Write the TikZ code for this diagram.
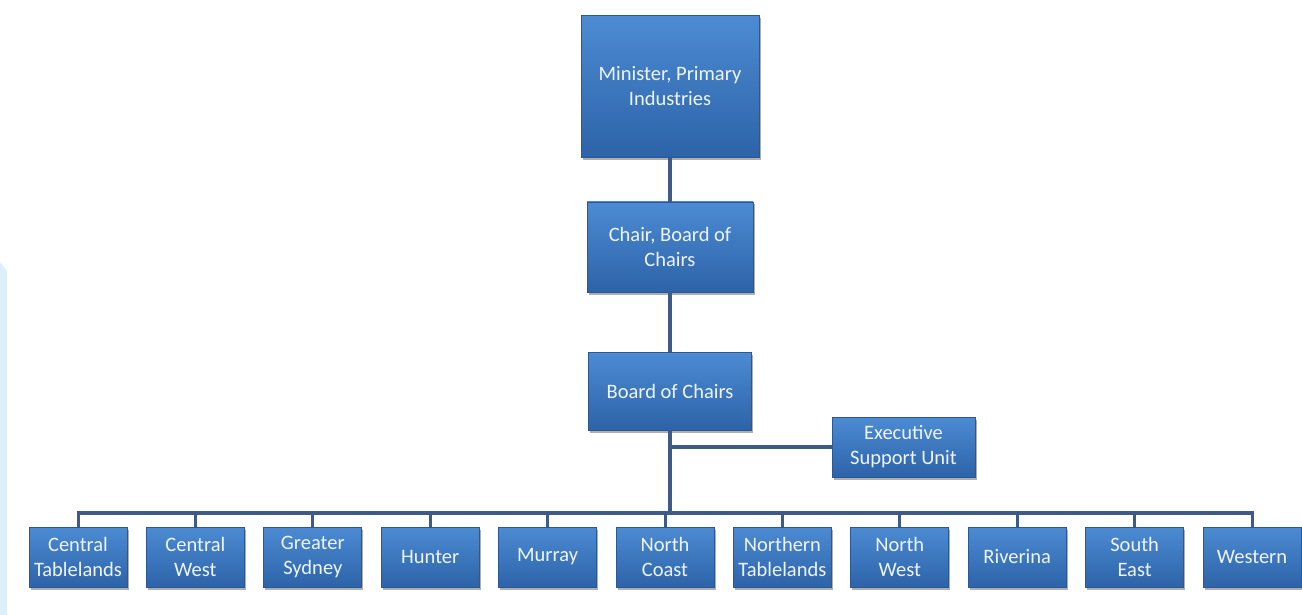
\documentclass[tikz,border=0pt]{standalone}
\usepackage{fontspec}
\setmainfont{Carlito}
\usetikzlibrary{shadows}
\definecolor{boxtop}{HTML}{4C8BD3}
\definecolor{boxbot}{HTML}{2D63A8}
\definecolor{boxedge}{HTML}{2A5894}
\definecolor{linec}{HTML}{3D5A88}
\definecolor{txt}{HTML}{EEF4FC}
\definecolor{panel}{HTML}{DDEFFA}
\tikzset{
  orgbox/.style={rectangle, draw=boxedge, line width=0.8pt, top color=boxtop, bottom color=boxbot,
    text=txt, align=center, inner sep=0pt, font=\fontsize{20.5}{25}\selectfont,
    drop shadow={shadow xshift=1.5pt, shadow yshift=-2.5pt, opacity=0.45, fill=black!70}},
  conn/.style={draw=linec, line width=3.8pt},
  stub/.style={draw=linec, line width=3pt}
}
\begin{document}
\begin{tikzpicture}[x=1pt,y=-1pt]
\fill[white] (0,0) rectangle (1302,615);
\useasboundingbox (0,0) rectangle (1302,615);
\fill[panel] (0,262) -- (7,271) -- (7,615) -- (0,615) -- cycle;

\node[orgbox, minimum width=178pt, minimum height=142pt] (min) at (670,86.5) {Minister, Primary\\Industries};
\node[orgbox, minimum width=166pt, minimum height=90pt] (chair) at (670,247) {Chair, Board of\\Chairs};
\node[orgbox, minimum width=163pt, minimum height=78pt] (board) at (670,391) {Board of Chairs};
\node[orgbox, minimum width=143pt, minimum height=60pt] (exec) at (903.5,447) {Executive\\Support Unit};

\foreach \i/\t in {1/{Central\\Tablelands},2/{Central\\West},3/{Greater\\Sydney},4/{Hunter},5/{Murray},6/{North\\Coast},7/{Northern\\Tablelands},8/{North\\West},9/{Riverina},10/{South\\East},11/{Western}}{
  \node[orgbox, minimum width=98pt, minimum height=60pt] (b\i) at ({78+117.4*(\i-1)},557) {\t};
}

\coordinate (bus) at (670,513);
\draw[conn] (min.south) -- (chair.north);
\draw[conn] (chair.south) -- (board.north);
\draw[conn] (board.south) -- (bus);
\draw[conn] (board.south |- exec.west) -- (exec.west);
\draw[conn, line width=3.5pt] ([xshift=-1.5pt]b1.north |- bus) -- ([xshift=1.5pt]b11.north |- bus);
\foreach \i in {1,...,11}{
  \draw[stub] (b\i.north |- bus) -- (b\i.north);
}
\end{tikzpicture}
\end{document}
